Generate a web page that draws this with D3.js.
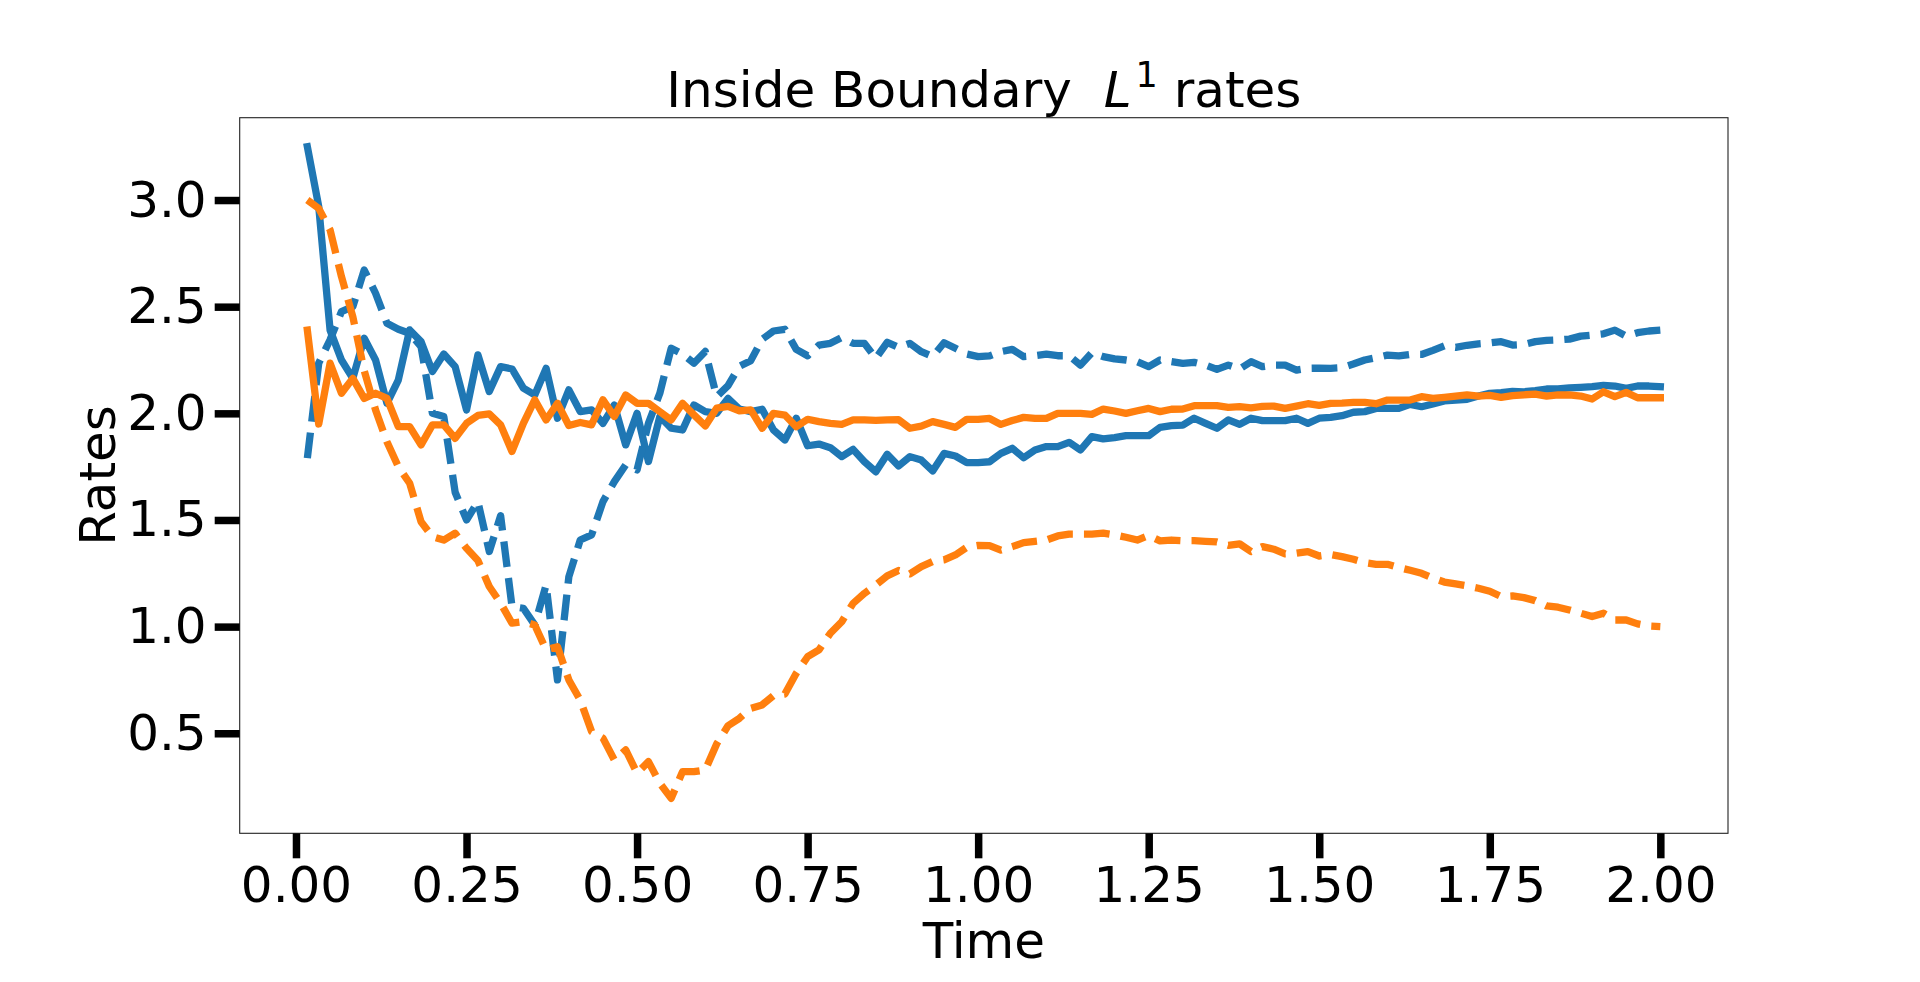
<!DOCTYPE html>
<html>
<head>
<meta charset="utf-8">
<script src="https://cdn.jsdelivr.net/npm/d3@7"></script>
<style>
    body { margin: 0; background: #fff; }
    text { font-family: "DejaVu Sans", sans-serif; fill: #000; }
</style>
</head>
<body>
<div id="content"></div>
<script>
// time grid: t = i/60, i = 1..120
let dt = 1 / 60;
let time = d3.range(1, 121).map(function (i) { return i * dt; });

let blueSolid = [
    3.25, 2.97, 2.39, 2.25, 2.164, 2.352, 2.25, 2.047, 2.156, 2.391,
    2.336, 2.196, 2.278, 2.219, 2.016, 2.274, 2.102, 2.219, 2.208, 2.118,
    2.086, 2.211, 1.977, 2.11, 2.008, 2.016, 1.953, 2.039, 1.852, 2.0,
    1.774, 1.985, 1.93, 1.922, 2.039, 2.008, 2.0, 2.07, 2.02, 2.008,
    2.019, 1.922, 1.875, 1.977, 1.848, 1.856, 1.839, 1.797, 1.831, 1.773,
    1.726, 1.808, 1.753, 1.797, 1.781, 1.73, 1.812, 1.8, 1.769, 1.769,
    1.773, 1.812, 1.836, 1.792, 1.828, 1.844, 1.844, 1.864, 1.828, 1.891,
    1.88, 1.886, 1.895, 1.895, 1.895, 1.934, 1.942, 1.945, 1.977, 1.953,
    1.93, 1.969, 1.948, 1.977, 1.966, 1.966, 1.966, 1.977, 1.953, 1.977,
    1.981, 1.989, 2.005, 2.008, 2.023, 2.023, 2.023, 2.042, 2.031, 2.044,
    2.058, 2.062, 2.066, 2.081, 2.094, 2.097, 2.103, 2.101, 2.106, 2.114,
    2.114, 2.119, 2.122, 2.125, 2.131, 2.128, 2.117, 2.128, 2.128, 2.125
];

let blueDashed = [
    1.79, 2.235, 2.345, 2.477, 2.50, 2.672, 2.563, 2.422, 2.394, 2.375,
    2.313, 2.0, 1.985, 1.63, 1.50, 1.586, 1.352, 1.52, 1.094, 1.086,
    1.008, 1.195, 0.75, 1.234, 1.406, 1.43, 1.586, 1.68, 1.758, 1.735,
    1.953, 2.094, 2.305, 2.278, 2.235, 2.29, 2.078, 2.13, 2.22, 2.247,
    2.347, 2.386, 2.394, 2.30, 2.27, 2.32, 2.328, 2.355, 2.328, 2.328,
    2.258, 2.333, 2.309, 2.328, 2.289, 2.266, 2.331, 2.305, 2.278, 2.266,
    2.269, 2.289, 2.30, 2.266, 2.27, 2.277, 2.27, 2.27, 2.226, 2.284,
    2.266, 2.255, 2.25, 2.242, 2.219, 2.25, 2.242, 2.234, 2.239, 2.226,
    2.206, 2.226, 2.208, 2.242, 2.219, 2.226, 2.226, 2.203, 2.211, 2.212,
    2.211, 2.214, 2.231, 2.25, 2.261, 2.273, 2.269, 2.276, 2.276, 2.295,
    2.316, 2.309, 2.319, 2.326, 2.33, 2.336, 2.32, 2.323, 2.336, 2.342,
    2.344, 2.348, 2.362, 2.367, 2.373, 2.39, 2.362, 2.378, 2.386, 2.39
];

let orangeSolid = [
    2.39, 1.95, 2.235, 2.094, 2.164, 2.07, 2.094, 2.07, 1.938, 1.938,
    1.852, 1.946, 1.946, 1.883, 1.953, 1.99, 1.997, 1.946, 1.821, 1.953,
    2.063, 1.969, 2.047, 1.943, 1.957, 1.946, 2.063, 1.985, 2.086, 2.047,
    2.047, 2.008, 1.969, 2.047, 1.993, 1.941, 2.024, 2.033, 2.012, 2.016,
    1.93, 2.0, 1.992, 1.937, 1.972, 1.961, 1.953, 1.948, 1.969, 1.969,
    1.967, 1.969, 1.97, 1.93, 1.94, 1.961, 1.948, 1.934, 1.972, 1.972,
    1.976, 1.948, 1.966, 1.981, 1.976, 1.976, 2.0, 2.0, 2.0, 1.995,
    2.02, 2.011, 2.0, 2.012, 2.023, 2.008, 2.019, 2.02, 2.036, 2.036,
    2.036, 2.028, 2.031, 2.026, 2.033, 2.034, 2.023, 2.034, 2.045, 2.037,
    2.047, 2.048, 2.051, 2.051, 2.045, 2.062, 2.062, 2.062, 2.078, 2.07,
    2.075, 2.081, 2.086, 2.081, 2.084, 2.075, 2.083, 2.087, 2.09, 2.081,
    2.086, 2.086, 2.081, 2.067, 2.101, 2.078, 2.098, 2.073, 2.073, 2.073
];

let orangeDashed = [
    3.00, 2.961, 2.86, 2.641, 2.453, 2.20, 2.016, 1.867, 1.75, 1.672,
    1.492, 1.422, 1.406, 1.438, 1.367, 1.31, 1.188, 1.11, 1.016, 1.023,
    1.008, 0.891, 0.906, 0.75, 0.656, 0.508, 0.477, 0.375, 0.422, 0.313,
    0.367, 0.266, 0.195, 0.32, 0.32, 0.328, 0.45, 0.535, 0.57, 0.617,
    0.633, 0.677, 0.684, 0.781, 0.859, 0.891, 0.969, 1.023, 1.109, 1.156,
    1.195, 1.238, 1.263, 1.247, 1.281, 1.305, 1.313, 1.336, 1.372, 1.381,
    1.38, 1.359, 1.375, 1.394, 1.40, 1.406, 1.425, 1.434, 1.434, 1.434,
    1.438, 1.43, 1.419, 1.406, 1.427, 1.402, 1.406, 1.403, 1.403, 1.40,
    1.397, 1.381, 1.388, 1.352, 1.375, 1.363, 1.341, 1.344, 1.352, 1.331,
    1.338, 1.328, 1.316, 1.30, 1.292, 1.292, 1.277, 1.264, 1.25, 1.227,
    1.209, 1.20, 1.191, 1.18, 1.166, 1.141, 1.144, 1.136, 1.122, 1.097,
    1.091, 1.078, 1.063, 1.047, 1.063, 1.031, 1.031, 1.013, 1.003, 1.0
];

let xTicks = [0, 0.25, 0.5, 0.75, 1.0, 1.25, 1.5, 1.75, 2.0];
let yTicks = [0.5, 1.0, 1.5, 2.0, 2.5, 3.0];

let blue = "#1f77b4", orange = "#ff7f0e";

window.onload = function () {
    let width = 1920, height = 982;
    let left = 239.7, right = 1728, top = 117.7, bottom = 833.3;
    let fontSize = 50;

    let svg = d3.select("#content").append("svg")
        .attr("width", width)
        .attr("height", height)
        .style("display", "block");

    let xScale = d3.scaleLinear().domain([-0.0825, 2.0992]).range([left, right]);
    let yScale = d3.scaleLinear().domain([0.031, 3.386]).range([bottom, top]);

    let line = d3.line()
        .x(function (d, i) { return xScale(time[i]); })
        .y(function (d) { return yScale(d); });

    let series = [
        {values: blueSolid, color: blue, dashed: false},
        {values: blueDashed, color: blue, dashed: true},
        {values: orangeSolid, color: orange, dashed: false},
        {values: orangeDashed, color: orange, dashed: true}
    ];

    series.forEach(function (s) {
        svg.append("path")
            .datum(s.values)
            .attr("d", line)
            .style("fill", "none")
            .style("stroke", s.color)
            .style("stroke-width", 7.3)
            .style("stroke-linejoin", "round")
            .style("stroke-linecap", s.dashed ? "butt" : "square")
            .style("stroke-dasharray", s.dashed ? "25.7,11.1" : null);
    });

    // frame
    svg.append("rect")
        .attr("x", left).attr("y", top)
        .attr("width", right - left).attr("height", bottom - top)
        .style("fill", "none")
        .style("stroke", "#222")
        .style("stroke-width", 1.1);

    let xAxis = svg.append("g")
        .attr("transform", "translate(0," + bottom + ")")
        .call(d3.axisBottom(xScale).tickValues(xTicks).tickFormat(d3.format(".2f"))
            .tickSize(25).tickPadding(8));

    let yAxis = svg.append("g")
        .attr("transform", "translate(" + left + ",0)")
        .call(d3.axisLeft(yScale).tickValues(yTicks).tickFormat(d3.format(".1f"))
            .tickSize(25).tickPadding(8));

    [xAxis, yAxis].forEach(function (ax) {
        ax.select(".domain").remove();
        ax.selectAll(".tick line").style("stroke", "#000").style("stroke-width", 7.5);
        ax.selectAll(".tick text")
            .style("font-family", "DejaVu Sans")
            .style("font-size", fontSize + "px")
            .style("fill", "#000");
    });

    // title with L^1
    let title = svg.append("text")
        .attr("x", (left + right) / 2)
        .attr("y", 106.7)
        .attr("text-anchor", "middle")
        .style("font-size", "50px")
        .style("white-space", "pre");
    title.append("tspan").text("Inside Boundary  ");
    title.append("tspan").style("font-style", "italic").text("L");
    title.append("tspan").attr("dy", -20).attr("dx", 4).style("font-size", "35px").text("1");
    title.append("tspan").attr("dy", 20).text(" rates");

    svg.append("text")
        .attr("x", (left + right) / 2)
        .attr("y", 957.5)
        .attr("text-anchor", "middle")
        .style("font-size", fontSize + "px")
        .text("Time");

    svg.append("text")
        .attr("transform", "translate(115," + ((top + bottom) / 2) + ") rotate(-90)")
        .attr("text-anchor", "middle")
        .style("font-size", fontSize + "px")
        .text("Rates");
};
</script>
</body>
</html>
